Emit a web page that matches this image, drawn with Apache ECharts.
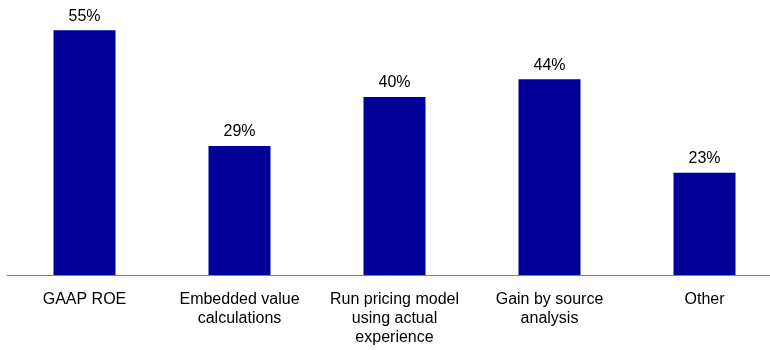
<!DOCTYPE html>
<html>
<head>
<meta charset="utf-8">
<script src="https://cdn.jsdelivr.net/npm/echarts@6/dist/echarts.min.js"></script>
<style>
  html, body { margin: 0; padding: 0; background: #fff; }
  #chart { width: 770px; height: 350px; }
</style>
</head>
<body>
<div id="chart"></div>
<script>
// Uses of actual experience studies (share of respondents)
const categories = [
  'GAAP ROE',
  'Embedded value\ncalculations',
  'Run pricing model\nusing actual\nexperience',
  'Gain by source\nanalysis',
  'Other'
];
const shares = [55, 29, 40, 44, 23];

const chart = echarts.init(document.getElementById('chart'));
chart.setOption({
  animation: false,
  textStyle: { fontFamily: 'Liberation Sans, Arial, sans-serif' },
  // plot runs slightly past the right edge so the last slot is clipped
  grid: {
    left: 7, width: 775, top: 8, bottom: 75,
    containLabel: false,
    outerBoundsMode: 'none'
  },
  xAxis: {
    type: 'category',
    data: categories,
    axisLine: { lineStyle: { color: '#808080', width: 1 } },
    axisTick: { show: false },
    axisLabel: {
      interval: 0,
      color: '#000',
      fontSize: 16,
      lineHeight: 19,
      margin: 15.5
    }
  },
  yAxis: {
    type: 'value',
    min: 0,
    max: 60,
    show: false,
    splitLine: { show: false }
  },
  series: [{
    type: 'bar',
    data: shares,
    barWidth: 62,
    itemStyle: { color: '#000099' },
    label: {
      show: true,
      position: 'top',
      distance: 6,
      color: '#000',
      fontSize: 16,
      formatter: p => p.value + '%'
    }
  }]
});
</script>
</body>
</html>
